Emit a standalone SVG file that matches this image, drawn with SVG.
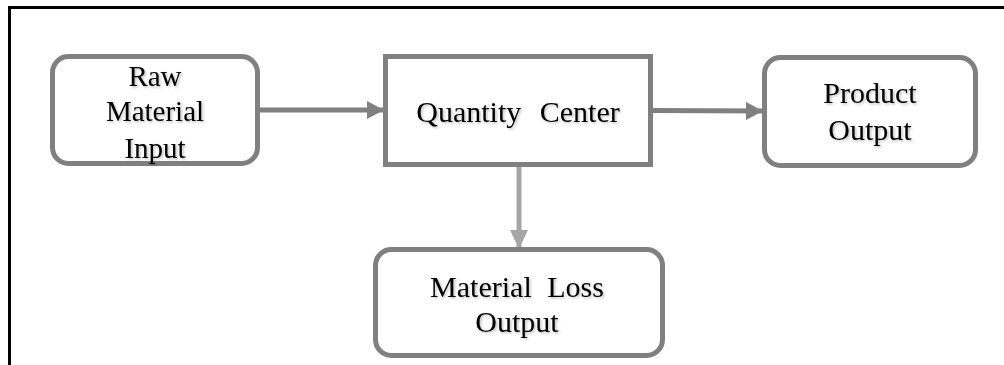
<svg xmlns="http://www.w3.org/2000/svg" width="1004" height="365" viewBox="0 0 1004 365">
  <defs>
    <style>
      .frame { fill: none; stroke: #000; stroke-width: 3; }
      .box { fill: #fff; stroke: #808080; stroke-width: 5; }
      .lbl { font-family: "Liberation Serif", "Times New Roman", serif; font-size: 30px; fill: #000; text-anchor: middle; filter: url(#soft); }
      .conn { fill: none; stroke: #808080; stroke-width: 5; }
      .conn-light { fill: none; stroke: #a6a6a6; stroke-width: 5; }
    </style>
    <filter id="soft" x="-10%" y="-20%" width="120%" height="140%">
      <feDropShadow dx="1.5" dy="1.5" stdDeviation="1" flood-color="#000" flood-opacity="0.25"/>
    </filter>
    <marker id="head" viewBox="0 0 17 18" refX="17" refY="9" markerWidth="17" markerHeight="18" markerUnits="userSpaceOnUse" orient="auto">
      <path d="M0,0 L17,9 L0,18 Z" fill="#808080"/>
    </marker>
    <marker id="head-light" viewBox="0 0 19 18" refX="19" refY="9" markerWidth="19" markerHeight="18" markerUnits="userSpaceOnUse" orient="auto">
      <path d="M0,0 L19,9 L0,18 Z" fill="#a6a6a6"/>
    </marker>
  </defs>

  <rect width="1004" height="365" fill="#fff"/>
  <!-- outer frame: only top and left edges fall inside the canvas -->
  <path class="frame" d="M9.5,365 V7.5 H1004"/>

  <g id="connectors">
    <line class="conn" x1="260" y1="110" x2="384" y2="110" marker-end="url(#head)"/>
    <line class="conn" x1="653" y1="110.5" x2="763" y2="111" marker-end="url(#head)"/>
    <line class="conn-light" x1="519" y1="167" x2="519" y2="249" marker-end="url(#head-light)"/>
  </g>

  <g id="raw-material-input">
    <rect class="box" x="52.5" y="56.5" width="205" height="107" rx="16"/>
    <text class="lbl" style="font-size:29px"><tspan x="155" y="86">Raw</tspan><tspan x="155" y="121">Material</tspan><tspan x="155" y="158">Input</tspan></text>
  </g>

  <g id="quantity-center">
    <rect class="box" x="385.5" y="56.5" width="265" height="108"/>
    <text class="lbl" x="518" y="122" word-spacing="11">Quantity Center</text>
  </g>

  <g id="product-output">
    <rect class="box" x="764.5" y="57.5" width="211" height="108" rx="16"/>
    <text class="lbl"><tspan x="870" y="103">Product</tspan><tspan x="870" y="140">Output</tspan></text>
  </g>

  <g id="material-loss-output">
    <rect class="box" x="375.5" y="249.5" width="287" height="106" rx="16"/>
    <text class="lbl"><tspan x="517" y="297" word-spacing="8">Material Loss</tspan><tspan x="517" y="332">Output</tspan></text>
  </g>
</svg>
